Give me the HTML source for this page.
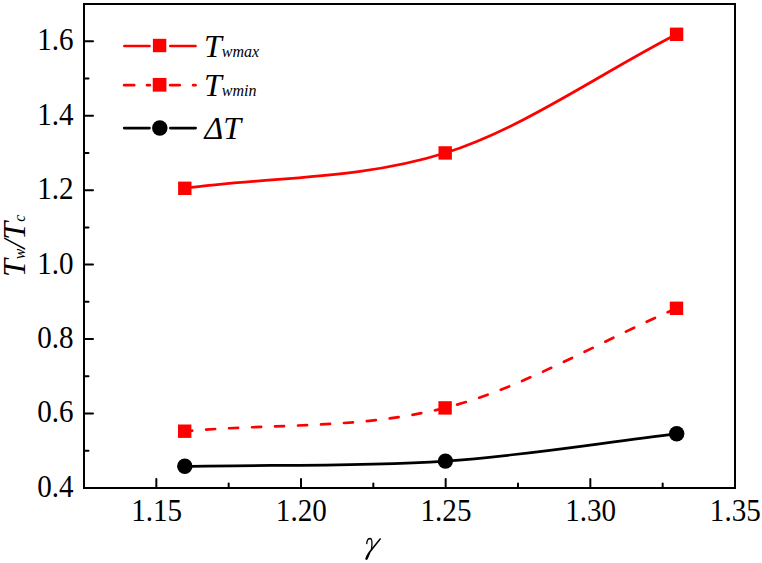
<!DOCTYPE html><html><head><meta charset="utf-8"><style>html,body{margin:0;padding:0;background:#fff;}svg{display:block;}text{font-family:"Liberation Serif",serif;}</style></head><body>
<svg width="762" height="563" viewBox="0 0 762 563">
<rect width="762" height="563" fill="#fff"/>
<path d="M184.80,188.30 C271.60,176.52 358.40,180.13 445.20,152.95 C522.33,128.80 599.47,73.85 676.60,34.30" fill="none" stroke="#f00" stroke-width="2.7"/>
<path d="M184.70,431.20 C271.50,423.43 358.30,429.59 445.10,407.90 C522.23,388.62 599.37,341.50 676.50,308.30" fill="none" stroke="#f00" stroke-width="2.7" stroke-dasharray="9 14" stroke-dashoffset="1.5" stroke-linecap="round"/>
<path d="M184.80,466.30 C271.67,464.57 358.53,466.84 445.40,461.10 C522.50,456.01 599.60,442.90 676.70,433.80" fill="none" stroke="#000" stroke-width="2.7"/>
<rect x="178.10" y="181.60" width="13.4" height="13.4" fill="#f00"/>
<rect x="438.50" y="146.25" width="13.4" height="13.4" fill="#f00"/>
<rect x="669.90" y="27.60" width="13.4" height="13.4" fill="#f00"/>
<rect x="178.00" y="424.50" width="13.4" height="13.4" fill="#f00"/>
<rect x="438.40" y="401.20" width="13.4" height="13.4" fill="#f00"/>
<rect x="669.80" y="301.60" width="13.4" height="13.4" fill="#f00"/>
<circle cx="184.8" cy="466.3" r="7.7" fill="#000"/>
<circle cx="445.4" cy="461.1" r="7.7" fill="#000"/>
<circle cx="676.7" cy="433.8" r="7.7" fill="#000"/>
<rect x="84" y="4" width="651" height="484" fill="none" stroke="#000" stroke-width="2"/>
<line x1="85" y1="488.00" x2="93" y2="488.00" stroke="#000" stroke-width="2" stroke-linecap="round"/>
<text transform="translate(73.6,496.90) scale(0.97,1.02)" font-size="30" text-anchor="end">0.4</text>
<line x1="85" y1="413.54" x2="93" y2="413.54" stroke="#000" stroke-width="2" stroke-linecap="round"/>
<text transform="translate(73.6,422.44) scale(0.97,1.02)" font-size="30" text-anchor="end">0.6</text>
<line x1="85" y1="339.08" x2="93" y2="339.08" stroke="#000" stroke-width="2" stroke-linecap="round"/>
<text transform="translate(73.6,347.98) scale(0.97,1.02)" font-size="30" text-anchor="end">0.8</text>
<line x1="85" y1="264.62" x2="93" y2="264.62" stroke="#000" stroke-width="2" stroke-linecap="round"/>
<text transform="translate(73.6,273.52) scale(0.97,1.02)" font-size="30" text-anchor="end">1.0</text>
<line x1="85" y1="190.15" x2="93" y2="190.15" stroke="#000" stroke-width="2" stroke-linecap="round"/>
<text transform="translate(73.6,199.05) scale(0.97,1.02)" font-size="30" text-anchor="end">1.2</text>
<line x1="85" y1="115.69" x2="93" y2="115.69" stroke="#000" stroke-width="2" stroke-linecap="round"/>
<text transform="translate(73.6,124.59) scale(0.97,1.02)" font-size="30" text-anchor="end">1.4</text>
<line x1="85" y1="41.23" x2="93" y2="41.23" stroke="#000" stroke-width="2" stroke-linecap="round"/>
<text transform="translate(73.6,50.13) scale(0.97,1.02)" font-size="30" text-anchor="end">1.6</text>
<line x1="85" y1="450.77" x2="88.5" y2="450.77" stroke="#000" stroke-width="2" stroke-linecap="round"/>
<line x1="85" y1="376.31" x2="88.5" y2="376.31" stroke="#000" stroke-width="2" stroke-linecap="round"/>
<line x1="85" y1="301.85" x2="88.5" y2="301.85" stroke="#000" stroke-width="2" stroke-linecap="round"/>
<line x1="85" y1="227.38" x2="88.5" y2="227.38" stroke="#000" stroke-width="2" stroke-linecap="round"/>
<line x1="85" y1="152.92" x2="88.5" y2="152.92" stroke="#000" stroke-width="2" stroke-linecap="round"/>
<line x1="85" y1="78.46" x2="88.5" y2="78.46" stroke="#000" stroke-width="2" stroke-linecap="round"/>
<line x1="156.33" y1="487" x2="156.33" y2="479" stroke="#000" stroke-width="2" stroke-linecap="round"/>
<text transform="translate(156.63,521.3) scale(0.97,1.02)" font-size="30" text-anchor="middle">1.15</text>
<line x1="301.00" y1="487" x2="301.00" y2="479" stroke="#000" stroke-width="2" stroke-linecap="round"/>
<text transform="translate(301.30,521.3) scale(0.97,1.02)" font-size="30" text-anchor="middle">1.20</text>
<line x1="445.67" y1="487" x2="445.67" y2="479" stroke="#000" stroke-width="2" stroke-linecap="round"/>
<text transform="translate(445.97,521.3) scale(0.97,1.02)" font-size="30" text-anchor="middle">1.25</text>
<line x1="590.33" y1="487" x2="590.33" y2="479" stroke="#000" stroke-width="2" stroke-linecap="round"/>
<text transform="translate(590.63,521.3) scale(0.97,1.02)" font-size="30" text-anchor="middle">1.30</text>
<text transform="translate(735.30,521.3) scale(0.97,1.02)" font-size="30" text-anchor="middle">1.35</text>
<line x1="228.67" y1="487" x2="228.67" y2="483.5" stroke="#000" stroke-width="2" stroke-linecap="round"/>
<line x1="373.33" y1="487" x2="373.33" y2="483.5" stroke="#000" stroke-width="2" stroke-linecap="round"/>
<line x1="518.00" y1="487" x2="518.00" y2="483.5" stroke="#000" stroke-width="2" stroke-linecap="round"/>
<line x1="662.67" y1="487" x2="662.67" y2="483.5" stroke="#000" stroke-width="2" stroke-linecap="round"/>
<path d="M366.7,543.6 C366.9,540.9 368.3,538.5 370.2,538.5 C371.8,538.6 372.1,541.5 371.9,545 L371.4,549.5" stroke="#000" stroke-width="1.3" fill="none" stroke-linecap="round"/>
<path d="M380.0,537.9 L381.1,539.0 L370.6,552.2 C369.6,554.2 368.8,557.2 367.6,559.2 C366.8,560.3 365.2,560.1 365.3,558.8 C365.8,556.6 367.4,553.6 369.0,551.6 Z" fill="#000"/>
<text transform="translate(25,277) rotate(-90)" font-size="32" font-style="italic">T<tspan font-size="16">w</tspan>/T<tspan font-size="16">c</tspan></text>
<line x1="124.4" y1="46.0" x2="149.5" y2="46.0" stroke="#f00" stroke-width="2.7" stroke-linecap="round" />
<line x1="170.3" y1="46.0" x2="195.5" y2="46.0" stroke="#f00" stroke-width="2.7" stroke-linecap="round" />
<rect x="152.9" y="38.8" width="13.4" height="13.4" fill="#f00"/>
<line x1="124.2" y1="85.2" x2="134.1" y2="85.2" stroke="#f00" stroke-width="2.7" stroke-linecap="round" />
<line x1="147.1" y1="85.2" x2="149.8" y2="85.2" stroke="#f00" stroke-width="2.7" stroke-linecap="round" />
<line x1="170.2" y1="85.2" x2="179.7" y2="85.2" stroke="#f00" stroke-width="2.7" stroke-linecap="round" />
<line x1="193.2" y1="85.2" x2="195.5" y2="85.2" stroke="#f00" stroke-width="2.7" stroke-linecap="round" />
<rect x="152.75" y="77.95" width="13.7" height="13.7" fill="#f00"/>
<line x1="124.2" y1="128.1" x2="149.5" y2="128.1" stroke="#000" stroke-width="2.7" stroke-linecap="round" />
<line x1="170.3" y1="128.1" x2="195.6" y2="128.1" stroke="#000" stroke-width="2.7" stroke-linecap="round" />
<circle cx="159.8" cy="127.9" r="7.75" fill="#000"/>
<text x="204" y="56.5" font-size="32" font-style="italic">T<tspan font-size="16">wmax</tspan></text>
<text x="204" y="96" font-size="32" font-style="italic">T<tspan font-size="16">wmin</tspan></text>
<text x="204.5" y="138.5" font-size="32" font-style="italic">&#916;T</text>
</svg></body></html>
